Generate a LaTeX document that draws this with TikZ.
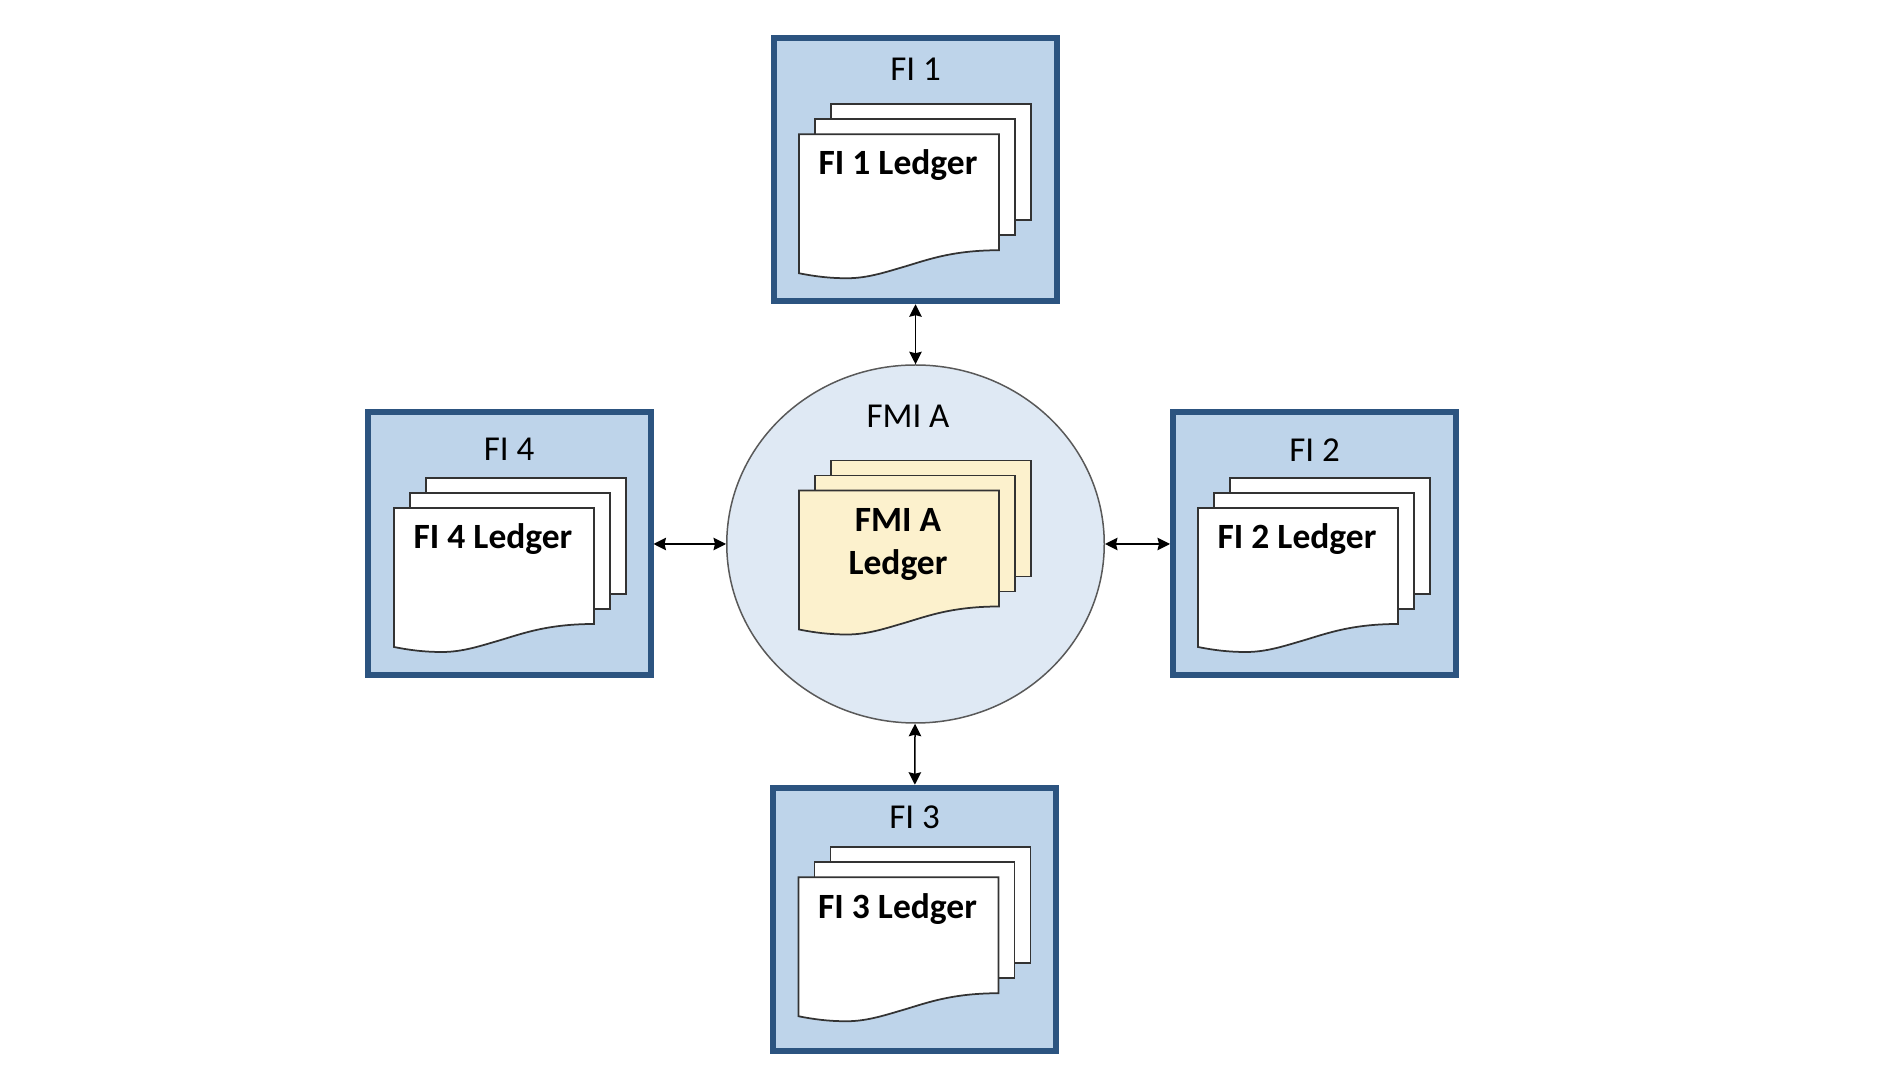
\documentclass[tikz,border=0pt]{standalone}
\usepackage{fontspec}
\setmainfont{Carlito}
\usetikzlibrary{positioning, arrows.meta, shapes.geometric}
\definecolor{bankfill}{HTML}{BED4EA}
\definecolor{bankline}{HTML}{2C5480}
\definecolor{hubfill}{HTML}{DFE9F4}
\definecolor{paperfill}{HTML}{FCF1CD}
\tikzset{>={Stealth[length=0.25cm,width=0.25cm,inset=0.03cm]},
bank/.style={draw=bankline, fill=bankfill, line width=0.12cm, minimum width=5.66cm, minimum height=5.26cm, inner sep=0},
hub/.style={ellipse, draw=black!65, fill=hubfill, line width=0.03cm, minimum width=7.55cm, minimum height=7.16cm, inner sep=0},
heading/.style={font=\fontsize{19.9pt}{24.5pt}\selectfont, text height=0.5cm, text depth=0, inner sep=0},
sheet/.style={draw=black!80, line width=0.035cm},
sheetbox/.style={sheet, anchor=north west, minimum width=4cm, minimum height=2.32cm, inner sep=0, outer sep=0},
sheettext/.style={font=\fontsize{20.2pt}{24.5pt}\selectfont\bfseries, align=center, anchor=north, inner sep=0},
link/.style={<->, line width=0.03cm}}

% #1 name, #2 top left of the front sheet, #3 fill, #4 text
\newcommand{\ledgerstack}[4]{
\begin{scope}[shift={(#2)}]
\node[sheetbox, fill=#3] (#1back) at (0.64,0.6) {};
\node[sheetbox, fill=#3] (#1mid) at (0.32,0.3) {};
\draw[sheet, fill=#3] (0,0) -- (4,0) -- (4,-2.32)
  .. controls (3,-2.32) and (2.5,-2.54) .. (2,-2.68)
  .. controls (1.6,-2.8) and (1.3,-2.88) .. (0.96,-2.88)
  .. controls (0.6,-2.88) and (0.3,-2.84) .. (0,-2.78) -- cycle;
\node[sheettext] (#1text) at (1.98,-0.31) {\vphantom{d}#4};
\end{scope}
}

\begin{document}
\begin{tikzpicture}
\useasboundingbox (0,0) rectangle (37.96,21.36);

\node[hub] (fmi) at (18.31,10.48) {};
\node[bank, above=1.2 of fmi] (fi1) {};
\node[bank, right=1.3 of fmi] (fi2) {};
\node[bank, below=1.22 of fmi, xshift=-0.02cm] (fi3) {};
\node[bank, left=1.45 of fmi] (fi4) {};

\node[heading, below=0.39 of fi1.north] (fi1name) {FI 1};
\node[heading, below=0.53 of fi2.north] (fi2name) {FI 2};
\node[heading, below=0.37 of fi3.north] (fi3name) {FI 3};
\node[heading, below=0.51 of fi4.north] (fi4name) {FI 4};
\node[heading, below=0.75 of fmi.north, xshift=-0.15cm] (fminame) {FMI A};

\coordinate[below right=1.98 and 0.56 of fi1.north west] (fi1corner);
\coordinate[below right=1.97 and 0.56 of fi2.north west] (fi2corner);
\coordinate[below right=1.85 and 0.57 of fi3.north west] (fi3corner);
\coordinate[below right=1.97 and 0.59 of fi4.north west] (fi4corner);
\coordinate[above left=1.07 and 2.33 of fmi.center] (fmicorner);

\ledgerstack{fi1}{fi1corner}{white}{FI 1 Ledger}
\ledgerstack{fi2}{fi2corner}{white}{FI 2 Ledger}
\ledgerstack{fi3}{fi3corner}{white}{FI 3 Ledger}
\ledgerstack{fi4}{fi4corner}{white}{FI 4 Ledger}
\ledgerstack{fmi}{fmicorner}{paperfill}{FMI A\\Ledger}

\foreach \bankname in {fi1,fi2,fi3,fi4}
  \draw[link] (fmi) -- (\bankname);
\end{tikzpicture}
\end{document}
